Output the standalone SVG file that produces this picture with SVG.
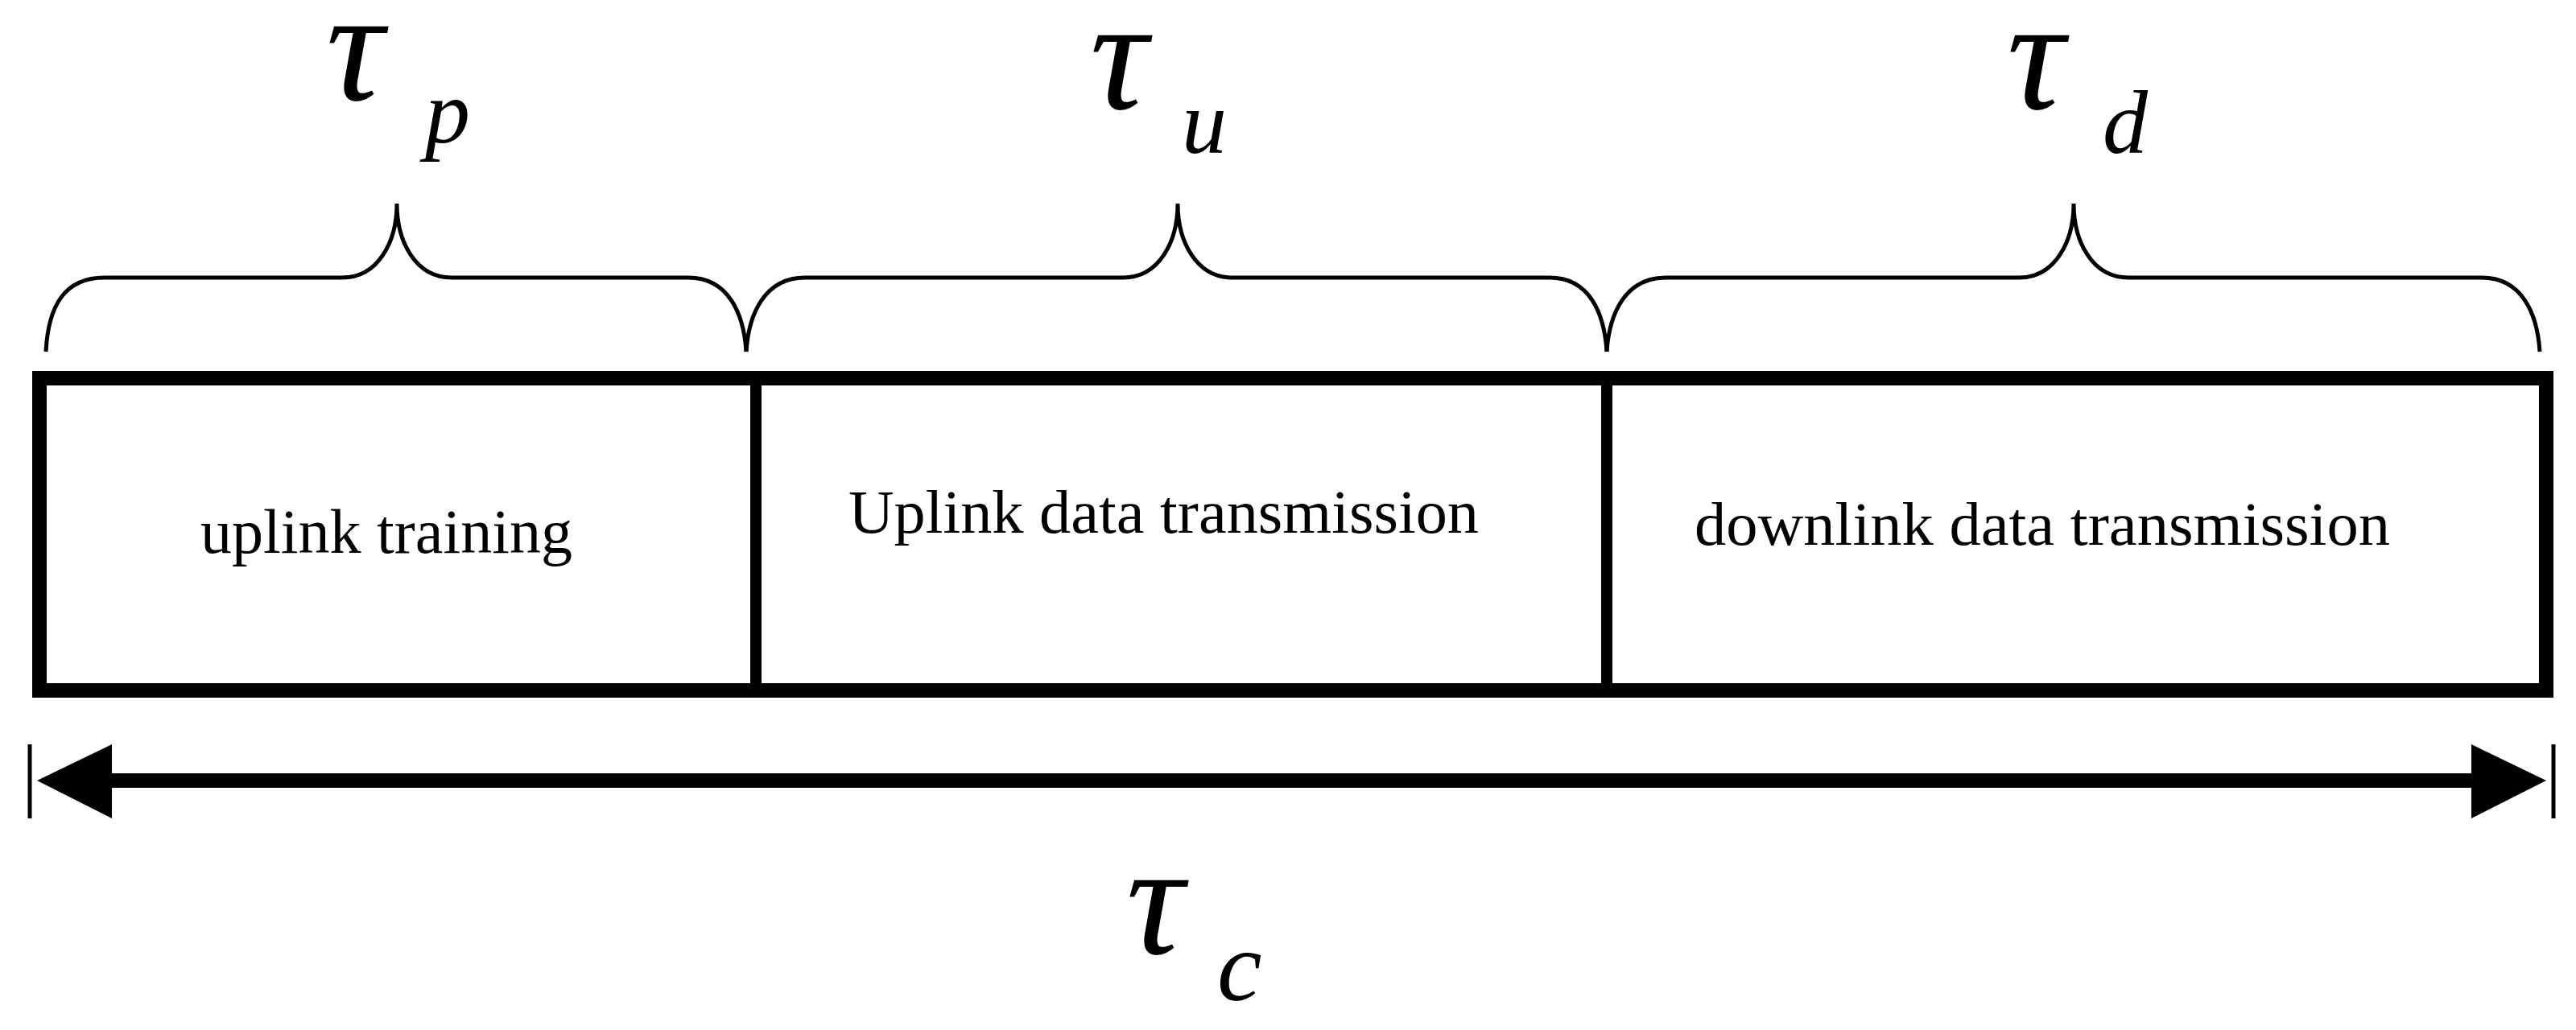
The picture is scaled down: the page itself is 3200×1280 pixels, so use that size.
<svg xmlns="http://www.w3.org/2000/svg" width="3200" height="1280" viewBox="0 0 3200 1280">
<style>
.t{font-family:"Liberation Serif","Times New Roman",serif;fill:#000}
.g{font-family:"Liberation Serif","Times New Roman",serif;font-style:italic;fill:#000}
.br{fill:none;stroke:#000;stroke-width:5}
</style>
<rect width="3200" height="1280" fill="#fff"/>
<g id="labels">
<text class="g" x="405" y="124" font-size="200">τ</text><text class="g" x="528" y="177" font-size="112">p</text>
<text class="g" x="1354" y="135" font-size="200">τ</text><text class="g" x="1468" y="190" font-size="112">u</text>
<text class="g" x="2493" y="135" font-size="200">τ</text><text class="g" x="2612" y="190" font-size="112">d</text>
<text class="g" x="1399" y="1185" font-size="200">τ</text><text class="g" x="1512" y="1243" font-size="125">c</text>
</g>
<g id="braces">
<path class="br" d="M57,437 C60,380 80,345 130,345 L425,345 C470,345 493,300 493,253 C493,300 516,345 561,345 L855,345 C905,345 924,390 927,437"/>
<path class="br" d="M927,437 C930,390 950,345 1000,345 L1395,345 C1440,345 1463,300 1463,253 C1463,300 1486,345 1531,345 L1925,345 C1975,345 1993,390 1996,437"/>
<path class="br" d="M1996,437 C1999,390 2019,345 2069,345 L2508,345 C2553,345 2576,300 2576,253 C2576,300 2599,345 2644,345 L3083,345 C3133,345 3152,390 3155,437"/>
</g>
<g id="frame">
<rect x="49" y="470" width="3114" height="388" fill="none" stroke="#000" stroke-width="18"/>
<line x1="939" y1="470" x2="939" y2="858" stroke="#000" stroke-width="14"/>
<line x1="1996" y1="470" x2="1996" y2="858" stroke="#000" stroke-width="14"/>
</g>
<g id="box1"><text class="t" x="249" y="687" font-size="78" textLength="462" lengthAdjust="spacingAndGlyphs">uplink training</text></g>
<g id="box2"><text class="t" x="1054" y="662" font-size="76" textLength="783" lengthAdjust="spacingAndGlyphs">Uplink data transmission</text></g>
<g id="box3"><text class="t" x="2105" y="677" font-size="76" textLength="864" lengthAdjust="spacingAndGlyphs">downlink data transmission</text></g>
<g id="connectors">
<line x1="120" y1="970" x2="3090" y2="970" stroke="#000" stroke-width="18"/>
<polygon points="3163,970 3070,925 3070,1017" fill="#000"/>
<polygon points="46,970 139,925 139,1017" fill="#000"/>
<line x1="3172" y1="925" x2="3172" y2="1017" stroke="#000" stroke-width="5"/>
<line x1="37" y1="925" x2="37" y2="1017" stroke="#000" stroke-width="5"/>
</g>
</svg>
